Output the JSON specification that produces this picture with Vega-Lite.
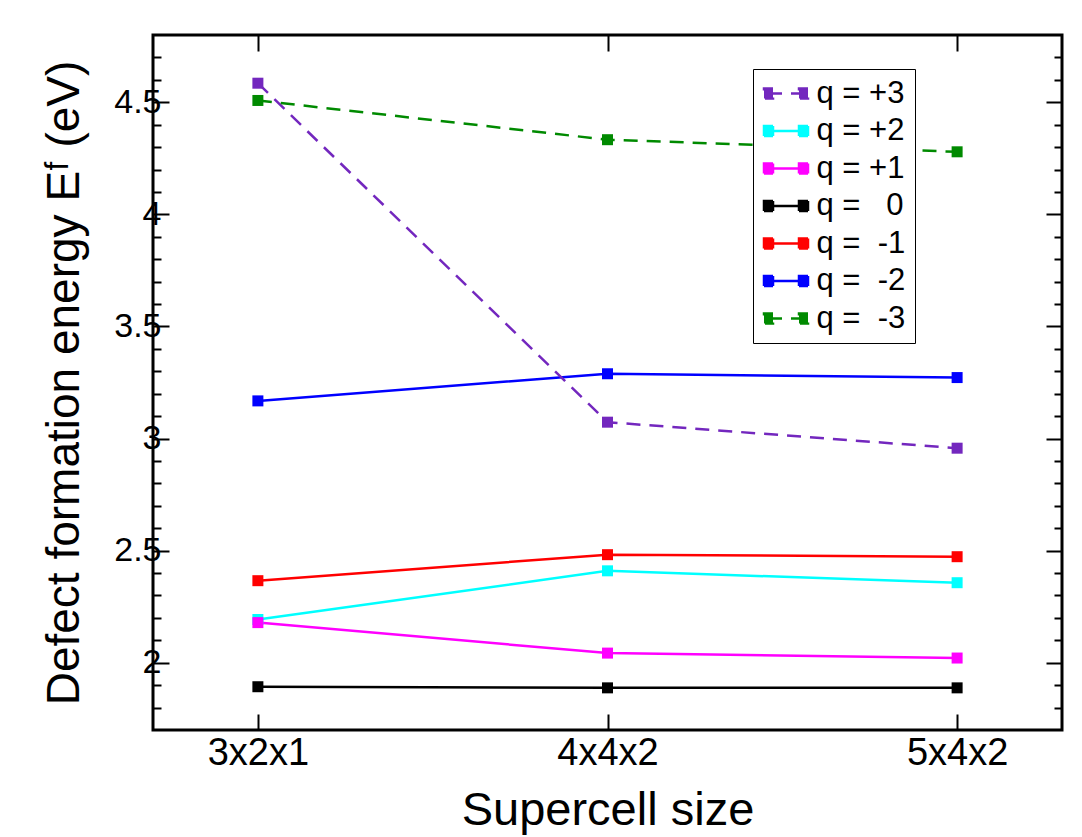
{
  "$schema": "https://vega.github.io/schema/vega-lite/v6.json",
  "width": 909,
  "height": 695,
  "autosize": {"type": "none"},
  "padding": {"left": 153, "top": 35, "right": 20, "bottom": 107},
  "background": "white",
  "config": {
    "view": {"stroke": "black", "strokeWidth": 3},
    "font": "Liberation Sans",
    "axis": {
      "domain": false,
      "grid": false,
      "tickColor": "black",
      "tickWidth": 2,
      "labelColor": "black",
      "titleColor": "black",
      "labelFont": "Liberation Sans",
      "titleFont": "Liberation Sans",
      "titleFontWeight": "normal"
    }
  },
  "data": {
    "values": [
      {"size": "3x2x1", "q": "q = +3", "E": 4.585},
      {"size": "4x4x2", "q": "q = +3", "E": 3.073},
      {"size": "5x4x2", "q": "q = +3", "E": 2.957},
      {"size": "3x2x1", "q": "q = +2", "E": 2.193},
      {"size": "4x4x2", "q": "q = +2", "E": 2.410},
      {"size": "5x4x2", "q": "q = +2", "E": 2.357},
      {"size": "3x2x1", "q": "q = +1", "E": 2.179},
      {"size": "4x4x2", "q": "q = +1", "E": 2.043},
      {"size": "5x4x2", "q": "q = +1", "E": 2.021},
      {"size": "3x2x1", "q": "q = \u00a0\u00a00", "E": 1.893},
      {"size": "4x4x2", "q": "q = \u00a0\u00a00", "E": 1.888},
      {"size": "5x4x2", "q": "q = \u00a0\u00a00", "E": 1.888},
      {"size": "3x2x1", "q": "q = \u00a0-1", "E": 2.366},
      {"size": "4x4x2", "q": "q = \u00a0-1", "E": 2.482},
      {"size": "5x4x2", "q": "q = \u00a0-1", "E": 2.473},
      {"size": "3x2x1", "q": "q = \u00a0-2", "E": 3.168},
      {"size": "4x4x2", "q": "q = \u00a0-2", "E": 3.289},
      {"size": "5x4x2", "q": "q = \u00a0-2", "E": 3.272},
      {"size": "3x2x1", "q": "q = \u00a0-3", "E": 4.508},
      {"size": "4x4x2", "q": "q = \u00a0-3", "E": 4.333},
      {"size": "5x4x2", "q": "q = \u00a0-3", "E": 4.279}
    ]
  },
  "encoding": {
    "color": {
      "field": "q",
      "type": "nominal",
      "scale": {
        "domain": ["q = +3", "q = +2", "q = +1", "q = \u00a0\u00a00", "q = \u00a0-1", "q = \u00a0-2", "q = \u00a0-3"],
        "range": ["#7327be", "#00ffff", "#ff00ff", "#000000", "#ff0000", "#0000ff", "#008a00"]
      },
      "legend": {
        "orient": "none",
        "legendX": 600,
        "legendY": 34,
        "title": null,
        "padding": 9,
        "strokeColor": "black",
        "fillColor": "white",
        "symbolType": "M-13,0H13M-22,-5H-13V5H-22ZM13,-5H22V5H13Z",
        "symbolSize": 4,
        "symbolOffset": 8.5,
        "labelOffset": 15,
        "labelFont": "Liberation Sans",
        "labelFontSize": 31,
        "labelColor": "black",
        "rowPadding": 5.5,
        "symbolStrokeWidth": 2.5,
        "symbolOpacity": 1,
        "encode": {
          "symbols": {
            "update": {
              "strokeDash": {"signal": "indexof(datum.value, '3') >= 0 ? [9, 9] : [1, 0]"}
            }
          }
        }
      }
    }
  },
  "layer": [
    {
      "transform": [{"filter": "indexof(datum.q, '3') < 0"}],
      "mark": {"type": "line", "strokeWidth": 2.5},
      "encoding": {
        "x": {
          "field": "size", "type": "ordinal",
          "scale": {"type": "point", "padding": 0.3, "domain": ["3x2x1", "4x4x2", "5x4x2"]},
          "axis": {"orient": "bottom", "title": "Supercell size", "labelFontSize": 38, "titleFontSize": 47, "tickSize": -16, "labelPadding": 20, "titlePadding": 15, "labelAngle": 0}
        },
        "y": {
          "field": "E", "type": "quantitative",
          "scale": {"domain": [1.7, 4.8], "zero": false, "nice": false},
          "axis": {"orient": "left", "values": [2, 2.5, 3, 3.5, 4, 4.5], "format": "~g", "tickSize": -16, "labelFontSize": 34, "labelPadding": 8, "title": "Defect formation energy E\u1da0 (eV)", "titleFontSize": 46, "titlePadding": 25}
        }
      }
    },
    {
      "transform": [{"filter": "indexof(datum.q, '3') >= 0"}],
      "mark": {"type": "line", "strokeWidth": 2.5, "strokeDash": [14, 9]},
      "encoding": {
        "x": {
          "field": "size", "type": "ordinal",
          "scale": {"type": "point", "padding": 0.3, "domain": ["3x2x1", "4x4x2", "5x4x2"]},
          "axis": null
        },
        "y": {
          "field": "E", "type": "quantitative",
          "scale": {"domain": [1.7, 4.8], "zero": false, "nice": false},
          "axis": null
        }
      }
    },
    {
      "mark": {"type": "point", "shape": "square", "filled": true, "size": 121, "opacity": 1},
      "encoding": {
        "x": {
          "field": "size", "type": "ordinal",
          "scale": {"type": "point", "padding": 0.3, "domain": ["3x2x1", "4x4x2", "5x4x2"]},
          "axis": {"orient": "top", "labels": false, "title": null, "tickSize": -16}
        },
        "y": {
          "field": "E", "type": "quantitative",
          "scale": {"domain": [1.7, 4.8], "zero": false, "nice": false},
          "axis": {"orient": "right", "values": [2, 2.5, 3, 3.5, 4, 4.5], "labels": false, "title": null, "tickSize": -16}
        }
      }
    },
    {
      "mark": {"type": "point", "opacity": 0},
      "encoding": {
        "x": {
          "field": "size", "type": "ordinal",
          "scale": {"type": "point", "padding": 0.3, "domain": ["3x2x1", "4x4x2", "5x4x2"]},
          "axis": null
        },
        "y": {
          "field": "E", "type": "quantitative",
          "scale": {"domain": [1.7, 4.8], "zero": false, "nice": false},
          "axis": {"orient": "left", "values": [1.8, 1.9, 2.1, 2.2, 2.3, 2.4, 2.6, 2.7, 2.8, 2.9, 3.1, 3.2, 3.3, 3.4, 3.6, 3.7, 3.8, 3.9, 4.1, 4.2, 4.3, 4.4, 4.6, 4.7], "labels": false, "title": null, "tickSize": -8}
        }
      }
    },
    {
      "mark": {"type": "point", "opacity": 0},
      "encoding": {
        "x": {
          "field": "size", "type": "ordinal",
          "scale": {"type": "point", "padding": 0.3, "domain": ["3x2x1", "4x4x2", "5x4x2"]},
          "axis": null
        },
        "y": {
          "field": "E", "type": "quantitative",
          "scale": {"domain": [1.7, 4.8], "zero": false, "nice": false},
          "axis": {"orient": "right", "values": [1.8, 1.9, 2.1, 2.2, 2.3, 2.4, 2.6, 2.7, 2.8, 2.9, 3.1, 3.2, 3.3, 3.4, 3.6, 3.7, 3.8, 3.9, 4.1, 4.2, 4.3, 4.4, 4.6, 4.7], "labels": false, "title": null, "tickSize": -8}
        }
      }
    }
  ],
  "resolve": {"axis": {"x": "independent", "y": "independent"}}
}
